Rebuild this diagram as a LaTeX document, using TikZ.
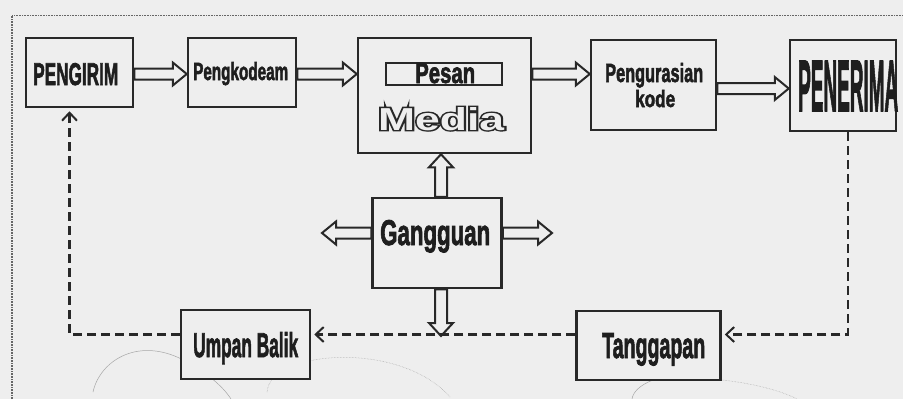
\documentclass[tikz,border=0pt]{standalone}
\usepackage{fontspec}
\setmainfont{Liberation Sans}
\newfontfamily\heavy[FakeBold=2.5]{Liberation Sans Bold}
\newfontfamily\halo[FakeBold=9]{Liberation Sans Bold}
\usepackage{graphicx}
\usetikzlibrary{calc,arrows.meta}
\definecolor{ink}{RGB}{40,40,40}
\definecolor{txt}{RGB}{30,30,30}
\definecolor{bg}{RGB}{238,238,238}
\newcommand{\fitt}[3]{\resizebox{#1pt}{#2pt}{\heavy #3}}
\newcommand{\hollowtext}[3]{\rlap{\color{ink}\resizebox{#1pt}{#2pt}{\halo #3}}{\color{bg}\resizebox{#1pt}{#2pt}{\bfseries #3}}}
\begin{document}
\begin{tikzpicture}[x=1pt,y=-1pt,
  box/.style={draw=ink, line width=2.5pt, inner sep=0pt, fill=bg},
  lbl/.style={anchor=base west, inner sep=0pt, text=txt},
  harr/.style={draw=ink, line width=2pt, fill=bg, line join=miter,
    to path={let \p1=(\tikztostart), \p2=(\tikztotarget), \n1={sign(\x2-\x1)} in
      (\x1,\y1-5.5pt) -- (\x2-\n1*14pt,\y1-5.5pt) -- (\x2-\n1*14pt,\y1-11.5pt) -- (\x2,\y1)
      -- (\x2-\n1*14pt,\y1+11.5pt) -- (\x2-\n1*14pt,\y1+5.5pt) -- (\x1,\y1+5.5pt) -- cycle}},
  varr/.style={draw=ink, line width=2pt, fill=bg, line join=miter,
    to path={let \p1=(\tikztostart), \p2=(\tikztotarget), \n1={sign(\y2-\y1)} in
      (\x1-6pt,\y1) -- (\x1-6pt,\y2-\n1*13pt) -- (\x1-12pt,\y2-\n1*13pt) -- (\x1,\y2)
      -- (\x1+12pt,\y2-\n1*13pt) -- (\x1+6pt,\y2-\n1*13pt) -- (\x1+6pt,\y1) -- cycle}},
  fb/.style={draw=ink, line width=2.5pt, dash pattern=on 9pt off 5pt,
    -{Straight Barb[length=8pt,width=15pt,line width=2pt]}, shorten >=3pt},
  faint/.style={draw=gray!70, line width=0.5pt}
]
\useasboundingbox (0,0) rectangle (903,399);
\fill[bg] (0,0) rectangle (903,399);
% outer dotted frame
\draw[gray!80!black, line width=1.3pt, dash pattern=on 0.8pt off 0.8pt] (12,399) -- (12,15.5) -- (903,15.5);
% faint curves
\draw[faint] (93,392) .. controls (100,360) and (140,335) .. (187,362) .. controls (205,372) and (222,385) .. (231,399);
\draw[faint, densely dotted] (267,392) .. controls (270,350) and (400,340) .. (450,397);
\draw[faint] (653,380) .. controls (640,385) and (633,392) .. (632,399);
\draw[faint, densely dotted] (722,380) .. controls (750,383) and (780,390) .. (797,399);

% boxes
\node[box, minimum width=107, minimum height=69] (pengirim) at (79.5,72.5) {};
\node[box, minimum width=108, minimum height=69] (pengkode) at (242,72.5) {};
\node[box, minimum width=173, minimum height=115] (media) at (444.5,95.5) {};
\node[box, line width=2pt, minimum width=116, minimum height=22] (pesanbox) at (444,73.5) {};
\node[box, minimum width=125, minimum height=90] (pengurai) at (653.5,85) {};
\node[box, minimum width=106, minimum height=91] (penerima) at (843,85.5) {};
\node[box, minimum width=129, minimum height=90] (gangguan) at (437,243) {};
\node[box, minimum width=129, minimum height=69] (umpan) at (245.5,344.5) {};
\node[box, minimum width=144, minimum height=69] (tanggap) at (648.5,345.5) {};

% texts
\node[lbl] (tpengirim) at (33,85) {\fitt{85}{22}{PENGIRIM}};
\node[lbl] (tpengkode) at (193,80) {\fitt{95}{18}{Pengkodeam}};
\node[lbl] (tpesan) at (415,83) {\fitt{60}{20}{Pesan}};
\node[lbl] (tmedia) at (378,130) {\hollowtext{126}{23}{Media}};
\node[lbl] (tpengurai) at (605,82) {\fitt{98}{19}{Pengurasian}};
\node[lbl] (tkode) at (635,107) {\fitt{40}{17}{kode}};
\node[lbl] (tpenerima) at (798,111) {\fitt{100}{50}{PENERIMA}};
\node[lbl] (tgangguan) at (380,245) {\fitt{110}{25}{Gangguan}};
\node[lbl] (tumpan) at (193,357) {\fitt{105}{25}{Umpan Balik}};
\node[lbl] (ttanggap) at (602,358) {\fitt{103}{25}{Tanggapan}};

% hollow arrows (height taken from the start point)
\coordinate (row1) at ([yshift=-1.5pt]pengkode.east);
\coordinate (row2) at ([yshift=-3.5pt]pengurai.east);
\draw[harr] ([yshift=-1.5pt]pengirim.east) to (pengkode.west);
\draw[harr] (row1) to (media.west);
\draw[harr] (media.east |- row1) to (pengurai.west);
\draw[harr] (pengurai.east |- row2) to (penerima.west);
\coordinate (gl) at (322,233);
\coordinate (gr) at (552,233);
\coordinate (gd) at (441,336);
\draw[varr] ([xshift=4pt]gangguan.north) to (media.south);
\draw[harr] (gangguan.west |- gl) to (gl);
\draw[harr] (gangguan.east |- gr) to (gr);
\draw[varr] ([xshift=4pt]gangguan.south) to (gd);

% feedback dashed
\coordinate (fbrow) at ([yshift=11pt]tanggap.west);
\draw[fb] ([xshift=5pt]penerima.south) |- ([yshift=11pt]tanggap.east);
\draw[fb] (fbrow) -- (umpan.east |- fbrow);
\draw[fb] (umpan.west |- fbrow) -| ([xshift=-10pt]pengirim.south);
\end{tikzpicture}
\end{document}
